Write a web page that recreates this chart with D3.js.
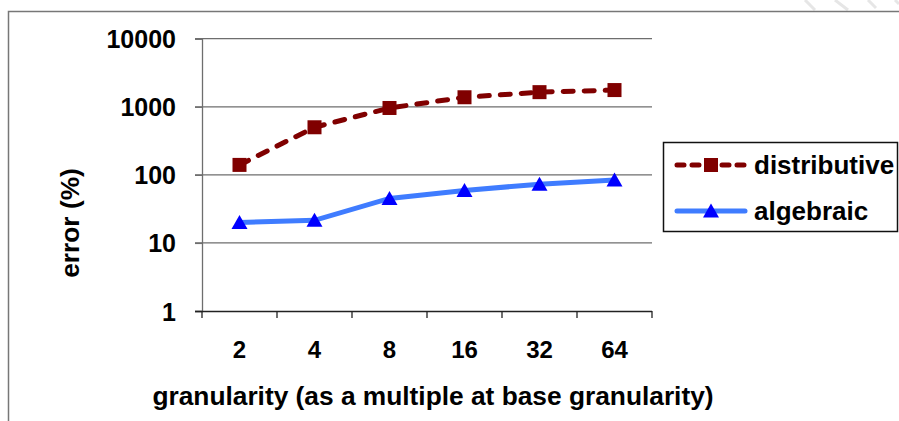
<!DOCTYPE html>
<html>
<head>
<meta charset="utf-8">
<script src="https://cdn.jsdelivr.net/npm/d3@7"></script>
<style>
  html, body { margin: 0; padding: 0; background: #fff; }
  svg { display: block; }
  text { font-family: "Liberation Sans", Arial, sans-serif; font-weight: bold; fill: #000; }
</style>
</head>
<body>
<svg id="chart" width="899" height="421"></svg>
<script>
// granularity levels (multiples of the base granularity)
const categories = ["2", "4", "8", "16", "32", "64"];
// error (%) per granularity level
const distributive = [140, 500, 960, 1380, 1640, 1760];
const algebraic = [20, 21.5, 45, 59, 73, 84];
const yTicks = [1, 10, 100, 1000, 10000];
const seriesNames = ["distributive", "algebraic"];

const svg = d3.select("#chart");

// page curl shading in the corner
const curl = svg.append("g").attr("stroke", "#e6e6e6").attr("stroke-width", 3);
[[805, 0, 815, 10], [835, 0, 848, 10], [868, 0, 876, 8], [895, 0, 899, 4]].forEach(l => {
  curl.append("line").attr("x1", l[0]).attr("y1", l[1]).attr("x2", l[2]).attr("y2", l[3]);
});

// chart frame
svg.append("path")
  .attr("d", "M8.5,430 V11.5 H905")
  .attr("fill", "none").attr("stroke", "#777").attr("stroke-width", 1.5);

const plot = { left: 202, right: 652, top: 38.7, bottom: 311 };

const x = d3.scaleBand().domain(categories).range([plot.left, plot.right]);
const y = d3.scaleLog().domain([1, 10000]).range([plot.bottom, plot.top]);

// horizontal gridlines with small outward ticks
svg.append("g").selectAll("line").data(yTicks.slice(1)).join("line")
  .attr("x1", plot.left - 7).attr("x2", plot.right)
  .attr("y1", d => y(d)).attr("y2", d => y(d))
  .attr("stroke", "#6e6e6e").attr("stroke-width", 1.3);

// value axis
const yAxis = svg.append("g")
  .attr("transform", `translate(${plot.left},0)`)
  .call(d3.axisLeft(y).tickValues(yTicks).tickFormat(d3.format("d")).tickSize(7).tickPadding(19));
yAxis.select(".domain").attr("stroke", "#6e6e6e").attr("stroke-width", 1.3);
yAxis.selectAll(".tick line").attr("stroke", "#6e6e6e").attr("stroke-width", 1.3);
yAxis.selectAll(".tick text")
  .attr("font-size", 25).attr("font-family", "Liberation Sans, Arial, sans-serif")
  .attr("font-weight", "bold").attr("fill", "#000").attr("dy", "0.36em");

// category axis: labels centred in bands, ticks on band edges
const xAxis = svg.append("g")
  .attr("transform", `translate(0,${plot.bottom})`)
  .call(d3.axisBottom(x).tickSize(0).tickPadding(30));
xAxis.select(".domain").attr("d", `M${plot.left - 7},0.5H${plot.right}`)
  .attr("stroke", "#222").attr("stroke-width", 1.3);
xAxis.selectAll(".tick text")
  .attr("font-size", 24).attr("font-family", "Liberation Sans, Arial, sans-serif")
  .attr("font-weight", "bold").attr("fill", "#000");
const edges = categories.map(c => x(c)).concat([x(categories[categories.length - 1]) + x.bandwidth()]);
xAxis.append("g").selectAll("line").data(edges).join("line")
  .attr("x1", d => d).attr("x2", d => d).attr("y1", 0).attr("y2", 7)
  .attr("stroke", "#222").attr("stroke-width", 1.3);

// axis titles
svg.append("text")
  .attr("x", 433).attr("y", 405).attr("text-anchor", "middle").attr("font-size", 26.3)
  .text("granularity (as a multiple at base granularity)");
svg.append("text")
  .attr("transform", "translate(79,223) rotate(-90)")
  .attr("text-anchor", "middle").attr("font-size", 26.3)
  .text("error (%)");

const cx = c => x(c) + x.bandwidth() / 2;
const line = d3.line().x((d, i) => cx(categories[i])).y(d => y(d));

// distributive series: dashed dark red with square markers
svg.append("path").datum(distributive)
  .attr("d", line).attr("fill", "none")
  .attr("stroke", "#800000").attr("stroke-width", 5)
  .attr("stroke-dasharray", "10,11").attr("stroke-linecap", "round");
const sq = 14;
svg.append("g").selectAll("rect").data(distributive).join("rect")
  .attr("x", (d, i) => cx(categories[i]) - sq / 2).attr("y", d => y(d) - sq / 2)
  .attr("width", sq).attr("height", sq).attr("fill", "#800000");

// algebraic series: solid light blue with triangle markers
svg.append("path").datum(algebraic)
  .attr("d", line).attr("fill", "none")
  .attr("stroke", "#3f7cff").attr("stroke-width", 5);
const tri = (px, py) => `M${px},${py - 7.5}L${px + 8},${py + 6.5}L${px - 8},${py + 6.5}Z`;
svg.append("g").selectAll("path").data(algebraic).join("path")
  .attr("d", (d, i) => tri(cx(categories[i]), y(d)))
  .attr("fill", "#0000ff");

// legend
const lg = svg.append("g");
lg.append("rect").attr("x", 663.5).attr("y", 142.5).attr("width", 234).attr("height", 89)
  .attr("fill", "#fff").attr("stroke", "#111").attr("stroke-width", 1.5);
const rows = [165, 211];
lg.append("line").attr("x1", 677).attr("x2", 745).attr("y1", rows[0]).attr("y2", rows[0])
  .attr("stroke", "#800000").attr("stroke-width", 5)
  .attr("stroke-dasharray", "7,8").attr("stroke-linecap", "round");
lg.append("rect").attr("x", 711 - sq / 2).attr("y", rows[0] - sq / 2)
  .attr("width", sq).attr("height", sq).attr("fill", "#800000");
lg.append("line").attr("x1", 677).attr("x2", 745).attr("y1", rows[1]).attr("y2", rows[1])
  .attr("stroke", "#3f7cff").attr("stroke-width", 5).attr("stroke-linecap", "round");
lg.append("path").attr("d", tri(711, rows[1])).attr("fill", "#0000ff");
lg.selectAll("text.lbl").data(seriesNames).join("text").attr("class", "lbl")
  .attr("x", 754).attr("y", (d, i) => rows[i] + 9).attr("font-size", 26)
  .text(d => d);
</script>
</body>
</html>
